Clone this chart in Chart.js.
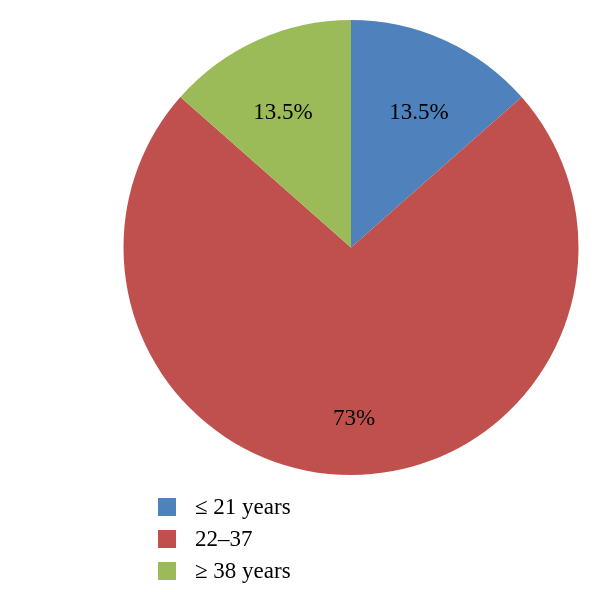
<!DOCTYPE html>
<html>
<head>
<meta charset="utf-8">
<script src="https://cdn.jsdelivr.net/npm/chart.js@4.4.0/dist/chart.umd.min.js"></script>
<style>
  html, body { margin: 0; padding: 0; background: #ffffff; }
  #wrap { width: 600px; height: 607px; position: relative; }
</style>
</head>
<body>
<div id="wrap"><canvas id="c" width="600" height="607"></canvas></div>
<script>
const categories = ["\u2264 21 years", "22\u201337", "\u2265 38 years"];
const values = [13.5, 73, 13.5];
const valueLabels = ["13.5%", "73%", "13.5%"];
const colors = ["#4F81BD", "#C0504D", "#9BBB59"];

const FONT = '"Liberation Serif", "DejaVu Serif", serif';
const labelRadiusFrac = [0.67, 0.745, 0.67];
const labelAngleShiftDeg = [2.2, -1, -2.2];

const sliceLabels = {
  id: 'sliceLabels',
  afterDatasetsDraw(chart) {
    const ctx = chart.ctx;
    const meta = chart.getDatasetMeta(0);
    ctx.save();
    ctx.font = '23px ' + FONT;
    ctx.fillStyle = '#000000';
    ctx.textAlign = 'center';
    ctx.textBaseline = 'middle';
    meta.data.forEach((arc, i) => {
      const p = arc.getProps(['x', 'y', 'startAngle', 'endAngle', 'outerRadius'], true);
      const mid = (p.startAngle + p.endAngle) / 2 + labelAngleShiftDeg[i] * Math.PI / 180;
      const r = p.outerRadius * labelRadiusFrac[i];
      ctx.fillText(valueLabels[i], p.x + Math.cos(mid) * r, p.y + Math.sin(mid) * r + 2);
    });
    ctx.restore();
  }
};

const customLegend = {
  id: 'customLegend',
  afterDraw(chart) {
    const ctx = chart.ctx;
    ctx.save();
    ctx.font = '23px ' + FONT;
    ctx.textAlign = 'left';
    ctx.textBaseline = 'middle';
    const x0 = 158, y0 = 507, step = 32, box = 18;
    categories.forEach((c, i) => {
      const y = y0 + i * step;
      ctx.fillStyle = colors[i];
      ctx.fillRect(x0, y - box / 2, box, box);
      ctx.fillStyle = '#000000';
      ctx.fillText(c, x0 + 37, y + 1);
    });
    ctx.restore();
  }
};

new Chart(document.getElementById('c'), {
  type: 'pie',
  data: {
    labels: categories,
    datasets: [{
      data: values,
      backgroundColor: colors,
      borderWidth: 0,
      hoverOffset: 0
    }]
  },
  options: {
    responsive: false,
    animation: false,
    layout: { padding: { left: 123.5, right: 21.5, top: 20, bottom: 132 } },
    plugins: {
      legend: { display: false },
      tooltip: { enabled: false }
    }
  },
  plugins: [sliceLabels, customLegend]
});
</script>
</body>
</html>
